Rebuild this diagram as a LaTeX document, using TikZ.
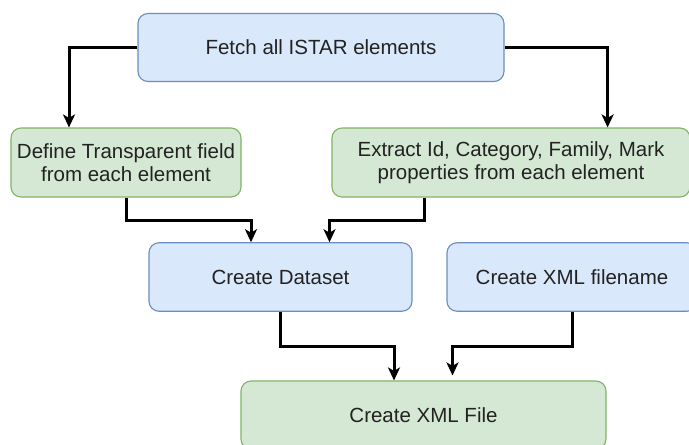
\documentclass[tikz,border=0pt]{standalone}
\usepackage{fontspec}
\setmainfont{Liberation Sans}
\usetikzlibrary{arrows.meta,calc}
\definecolor{bluefill}{HTML}{DAE8FC}
\definecolor{bluedraw}{HTML}{6C8EBF}
\definecolor{greenfill}{HTML}{D5E8D4}
\definecolor{greendraw}{HTML}{82B366}
\definecolor{txt}{HTML}{222222}
\begin{document}
\begin{tikzpicture}[x=1pt,y=-1pt,
  box/.style={rectangle,rounded corners=10pt,line width=1.1pt,inner sep=0pt,
    align=center,text=txt,font=\fontsize{20.5}{23.5}\selectfont},
  bluebox/.style={box,fill=bluefill,draw=bluedraw},
  greenbox/.style={box,fill=greenfill,draw=greendraw},
  arr/.style={line width=3pt,-{Stealth[length=13pt,width=12pt,inset=3.5pt]}}]
\useasboundingbox (0,0) rectangle (689,445);
\clip (0,0) rectangle (689,445);
\fill[white] (0,0) rectangle (689,445);

% process steps
\node[bluebox,minimum width=366pt,minimum height=68pt] (fetch) at (321,47.5) {Fetch all ISTAR elements};
\node[greenbox,minimum width=230pt,minimum height=69pt] (def) at (126,162.5) {Define Transparent field\\from each element};
\node[greenbox,minimum width=358pt,minimum height=69pt] (ext) at (511,162.5) {Extract Id, Category, Family, Mark\\properties from each element};
\node[bluebox,minimum width=263pt,minimum height=68.5pt] (ds) at (280.5,277) {Create Dataset};
\node[bluebox,minimum width=250pt,minimum height=68.5pt] (fn) at (572,277) {Create XML filename};
\node[greenbox,minimum width=365pt,minimum height=68pt] (xf) at (423.5,415) {Create XML File};

% flow connectors
\draw[arr] (fetch.west) -| ([xshift=-57pt]def.north);
\draw[arr] (fetch.east) -| ([xshift=96.6pt]ext.north);
\draw[arr] (def.south) -- ++(0,23) -| ([xshift=-29.5pt]ds.north);
\draw[arr] ([xshift=-87pt]ext.south) -- ++(0,23) -| ([xshift=49pt]ds.north);
\draw[arr] (ds.south) -- ++(0,34.5) -| ([xshift=-29.5pt]xf.north);
\draw[arr,shorten >=5pt] (fn.south) -- ++(0,34.5) -| ([xshift=29pt]xf.north);
\end{tikzpicture}
\end{document}
